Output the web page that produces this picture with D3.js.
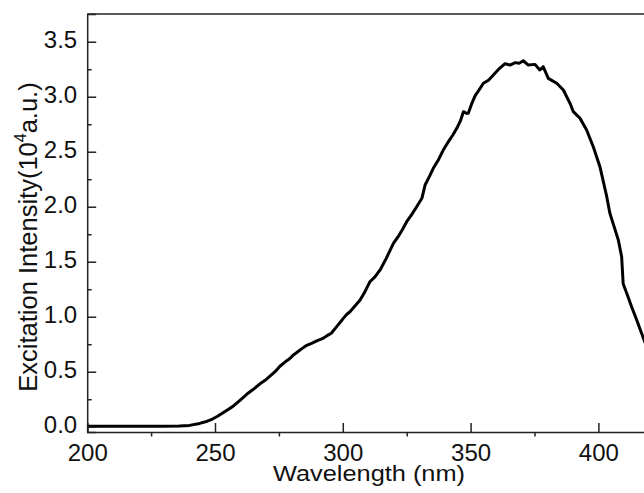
<!DOCTYPE html>
<html>
<head>
<meta charset="utf-8">
<script src="https://cdn.jsdelivr.net/npm/d3@7"></script>
<style>
  html, body { margin: 0; padding: 0; background: #fff; }
  svg { display: block; font-family: "Liberation Sans", Arial, sans-serif; }
</style>
</head>
<body>
<svg id="chart"></svg>
<script>
// Excitation spectrum (wavelength in nm, intensity in 10^4 a.u.)
const wavelength = [
  200, 210, 220, 230, 236, 240, 244, 247, 249, 251, 253, 255, 257, 260, 262.4, 265, 267.6, 269.5,
  271.5, 273.5, 275.4, 277.5, 279.3, 280.8, 282, 284, 285.9, 288, 289.8, 292, 294, 295.5, 297.6,
  299, 300.2, 301.5, 302.8, 304.5, 306.7, 308.5, 310, 310.6, 312.5, 314.6, 317, 319.8, 322, 323.5,
  325, 327, 328.9, 331, 332.2, 334, 335.4, 337.5, 339.3, 341, 343, 344.6, 346, 347.2, 348.3, 349.1,
  350.5, 351.8, 353, 355, 357, 358.9, 361, 363.5, 365.4, 367.5, 369, 370.6, 372.6, 375.2, 377.1,
  378.4, 380.4, 383.7, 386.3, 388.9, 390.2, 392.8, 395.4, 398, 400.6, 403.2, 404.5, 406, 407.8,
  409.1, 409.7, 411.3, 413, 415, 416.9, 418.5, 420
];
const intensity = [
  0.005, 0.005, 0.004, 0.004, 0.006, 0.012, 0.03, 0.05, 0.07, 0.095, 0.125, 0.155, 0.185, 0.245, 0.295, 0.34, 0.39, 0.42,
  0.46, 0.50, 0.55, 0.59, 0.62, 0.655, 0.675, 0.71, 0.74, 0.76, 0.78, 0.80, 0.83, 0.85, 0.91,
  0.95, 0.985, 1.02, 1.045, 1.09, 1.15, 1.22, 1.29, 1.318, 1.36, 1.425, 1.53, 1.667, 1.74, 1.80,
  1.864, 1.93, 2.0, 2.08, 2.197, 2.28, 2.349, 2.43, 2.515, 2.58, 2.65, 2.713, 2.78, 2.864, 2.85, 2.849,
  2.94, 3.01, 3.05, 3.122, 3.15, 3.197, 3.25, 3.30, 3.288, 3.31, 3.305, 3.327, 3.288, 3.294, 3.243,
  3.273, 3.167, 3.122, 3.061, 2.94, 2.864, 2.804, 2.697, 2.545, 2.364, 2.10, 1.94, 1.83, 1.697,
  1.545, 1.30, 1.20, 1.091, 0.97, 0.849, 0.75, 0.66
];

const xMajor = [200, 250, 300, 350, 400];
const xMinor = [225, 275, 325, 375];
const yMajor = [0, 0.5, 1.0, 1.5, 2.0, 2.5, 3.0, 3.5];
const yMinor = [0.25, 0.75, 1.25, 1.75, 2.25, 2.75, 3.25];

const width = 644, height = 493;
const plotLeft = 87.2, plotRight = 649.5, plotTop = 14, plotBottom = 432;

const svg = d3.select("#chart").attr("width", width).attr("height", height);

const x = d3.scaleLinear().domain([200, 420]).range([plotLeft, plotRight]);
const y = d3.scaleLinear().domain([-0.048, 3.752]).range([plotBottom, plotTop]);

const data = wavelength.map((w, i) => ({ w: w, v: intensity[i] }));

// clip to the plot box
svg.append("defs").append("clipPath").attr("id", "plotClip")
  .append("rect").attr("x", plotLeft).attr("y", plotTop)
  .attr("width", plotRight - plotLeft).attr("height", plotBottom - plotTop);

// the spectrum
svg.append("path")
  .datum(data)
  .attr("clip-path", "url(#plotClip)")
  .attr("fill", "none")
  .attr("stroke", "#000")
  .attr("stroke-width", 3)
  .attr("stroke-linejoin", "round")
  .attr("d", d3.line().x(d => x(d.w)).y(d => y(d.v)));

// top border
svg.append("line")
  .attr("x1", plotLeft).attr("x2", plotRight).attr("y1", plotTop).attr("y2", plotTop)
  .attr("stroke", "#222").attr("stroke-width", 1.5);

// x axis: major ticks point in, minor ticks point out
svg.append("g").attr("transform", `translate(0,${plotBottom})`)
  .call(d3.axisBottom(x).tickValues(xMajor).tickSize(-9).tickPadding(12).tickFormat(d3.format("d")));
svg.append("g").attr("transform", `translate(0,${plotBottom})`)
  .call(d3.axisBottom(x).tickValues(xMinor).tickSize(4.5).tickFormat(""))
  .select(".domain").remove();

// y axis: all ticks point in
const yAxis = svg.append("g").attr("transform", `translate(${plotLeft},0)`)
  .call(d3.axisLeft(y).tickValues(yMajor).tickSize(-9).tickPadding(10).tickFormat(d3.format(".1f")));
svg.append("g").attr("transform", `translate(${plotLeft},0)`)
  .call(d3.axisLeft(y).tickValues(yMinor).tickSize(-4.5).tickFormat(""))
  .select(".domain").remove();

svg.selectAll(".domain").attr("stroke", "#222").attr("stroke-width", 1.5);
svg.selectAll(".tick line").attr("stroke", "#222").attr("stroke-width", 1.5);
svg.selectAll(".tick text")
  .attr("font-family", "'Liberation Sans', Arial, sans-serif")
  .attr("font-size", 24)
  .attr("fill", "#111");
yAxis.selectAll(".tick text").attr("dy", "0.26em");

// axis titles
svg.append("text")
  .attr("x", 273).attr("y", 481)
  .attr("font-size", 22).attr("fill", "#111")
  .attr("textLength", 192).attr("lengthAdjust", "spacingAndGlyphs")
  .text("Wavelength (nm)");

const yTitle = svg.append("text")
  .attr("transform", "translate(37,237) rotate(-90)")
  .attr("text-anchor", "middle")
  .attr("font-size", 25.5).attr("fill", "#111");
yTitle.append("tspan").text("Excitation Intensity(10");
yTitle.append("tspan").attr("font-size", 16).attr("dy", -11).text("4");
yTitle.append("tspan").attr("dy", 11).text("a.u.)");
</script>
</body>
</html>
